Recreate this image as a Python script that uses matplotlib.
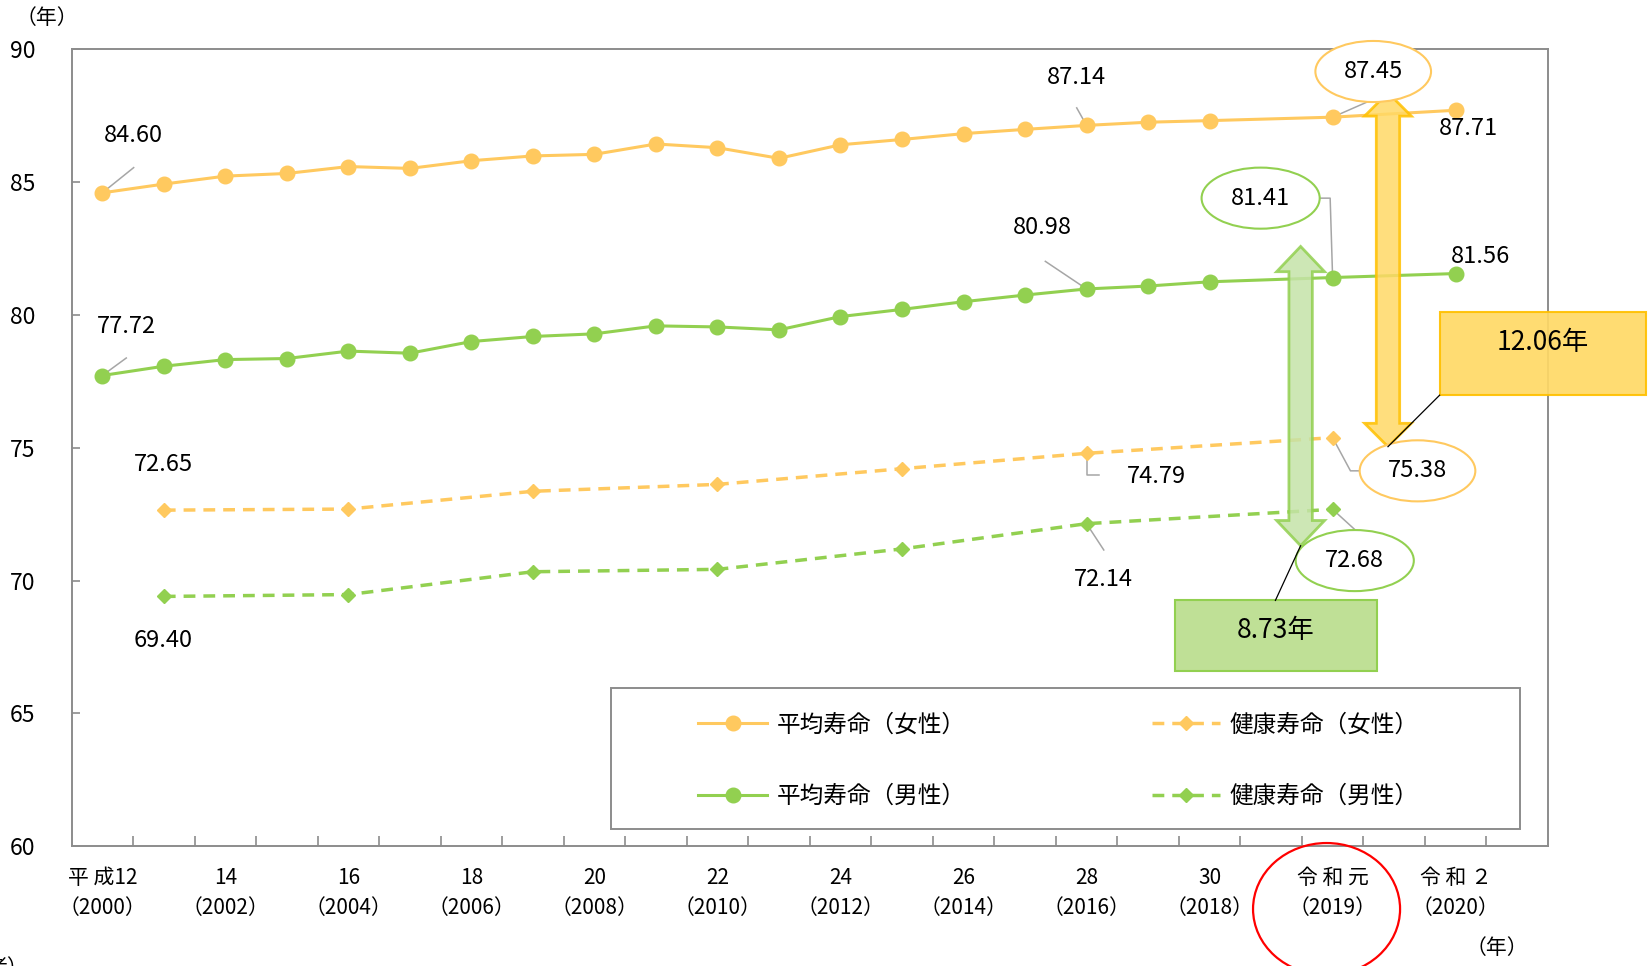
import matplotlib
matplotlib.use("Agg")
import matplotlib.pyplot as plt
from matplotlib.patches import Ellipse, Polygon, Rectangle
from matplotlib.lines import Line2D

plt.rcParams['font.family'] = ['Noto Sans CJK JP', 'DejaVu Sans']

# ---- data -------------------------------------------------------------
years = list(range(2000, 2019)) + [2019, 2020]
# category slot of each year on the x axis (2019 and 2020 are spaced wider)
slots = list(range(0, 19)) + [20, 22]
n_slots = 24

life_f = [84.60, 84.93, 85.23, 85.33, 85.59, 85.52, 85.81, 85.99, 86.05, 86.44,
          86.30, 85.90, 86.41, 86.61, 86.83, 86.99, 87.14, 87.26, 87.32, 87.45, 87.71]
life_m = [77.72, 78.07, 78.32, 78.36, 78.64, 78.56, 79.00, 79.19, 79.29, 79.59,
          79.55, 79.44, 79.94, 80.21, 80.50, 80.75, 80.98, 81.09, 81.25, 81.41, 81.56]

health_years = [2001, 2004, 2007, 2010, 2013, 2016, 2019]
health_f = [72.65, 72.69, 73.36, 73.62, 74.21, 74.79, 75.38]
health_m = [69.40, 69.47, 70.33, 70.42, 71.19, 72.14, 72.68]

gap_f = 12.06
gap_m = 8.73

tick_slots = [0, 2, 4, 6, 8, 10, 12, 14, 16, 18, 20, 22]
tick_labels = ["平 成12\n（2000）", "14\n（2002）", "16\n（2004）", "18\n（2006）",
               "20\n（2008）", "22\n（2010）", "24\n（2012）", "26\n（2014）",
               "28\n（2016）", "30\n（2018）", "令 和 元\n（2019）", "令 和 ２\n（2020）"]

series_names = ["平均寿命（女性）", "平均寿命（男性）", "健康寿命（女性）", "健康寿命（男性）"]

# ---- styles -----------------------------------------------------------
ORANGE = '#FFC95F'
GREEN = '#92D050'
GREY = '#8C8C8C'
LEADER = '#A6A6A6'

slot_of = dict(zip(years, slots))
x_life = [slot_of[y] for y in years]
x_health = [slot_of[y] for y in health_years]

fig = plt.figure(figsize=(16.52, 9.66), dpi=100)
ax = fig.add_axes([0.0433, 0.1242, 0.8937, 0.8246])

l1, = ax.plot(x_life, life_f, color=ORANGE, lw=2.2, marker='o', ms=10.5, zorder=3)
l2, = ax.plot(x_life, life_m, color=GREEN, lw=2.2, marker='o', ms=10.5, zorder=3)
l3, = ax.plot(x_health, health_f, color=ORANGE, lw=2.5, dashes=(3.4, 2.3),
              marker='D', ms=7.5, zorder=3)
l4, = ax.plot(x_health, health_m, color=GREEN, lw=2.5, dashes=(3.4, 2.3),
              marker='D', ms=7.5, zorder=3)

ax.set_xlim(-0.5, n_slots - 0.5)
ax.set_ylim(60, 90)
ax.set_yticks(range(60, 91, 5))
ax.set_xticks(tick_slots)
ax.set_xticklabels(tick_labels, fontsize=15, linespacing=1.5)
ax.set_xticks([k + 0.5 for k in range(n_slots - 1)], minor=True)
ax.tick_params(axis='x', which='major', length=0, pad=15)
ax.tick_params(axis='x', which='minor', direction='in', length=7, width=1.2, color=GREY)
ax.tick_params(axis='y', direction='in', length=6, width=1.2, color=GREY,
               labelsize=16.5, pad=26)
for sp in ax.spines.values():
    sp.set_color(GREY)
    sp.set_linewidth(1.4)

# ---- value labels -----------------------------------------------------
LBL = 17


def straight_label(x, y, text, tx, ty, ex, ey):
    ax.plot([x, ex], [y, ey], color=LEADER, lw=1.1, zorder=2)
    ax.text(tx, ty, text, fontsize=LBL, ha='center', va='center', zorder=5)


def ellipse_label(text, cx, cy, w, h, color):
    ax.add_patch(Ellipse((cx, cy), w, h, facecolor='white', edgecolor=color,
                         lw=1.5, zorder=6, clip_on=False))
    ax.text(cx, cy, text, fontsize=LBL, ha='center', va='center', zorder=7)


def fmt(v):
    return f"{v:.2f}"


# life expectancy, women
straight_label(0, life_f[0], fmt(life_f[0]), 0.51, 86.75, 0.51, 85.55)
straight_label(16, life_f[16], fmt(life_f[16]), 15.84, 88.95, 15.84, 87.80)
ax.text(22.2, 87.02, fmt(life_f[20]), fontsize=LBL, ha='center', va='center')
ax.plot([20, 20.6], [life_f[19], 88.06], color=LEADER, lw=1.1, zorder=2)
ellipse_label(fmt(life_f[19]), 20.66, 89.17, 1.88, 2.3, ORANGE)

# life expectancy, men
straight_label(0, life_m[0], fmt(life_m[0]), 0.39, 79.58, 0.39, 78.38)
straight_label(16, life_m[16], fmt(life_m[16]), 15.29, 83.3, 15.33, 82.02)
ax.text(22.4, 82.2, fmt(life_m[20]), fontsize=LBL, ha='center', va='center')
ax.plot([20, 19.96, 19.79], [life_m[19], 84.4, 84.4], color=LEADER, lw=1.1, zorder=2)
ellipse_label(fmt(life_m[19]), 18.83, 84.4, 1.92, 2.3, GREEN)

# healthy life expectancy, women
ax.text(0.99, 74.35, fmt(health_f[0]), fontsize=LBL, ha='center', va='center')
ax.plot([16, 16, 16.21], [health_f[5], 73.97, 73.97], color=LEADER, lw=1.1, zorder=2)
ax.text(17.14, 73.93, fmt(health_f[5]), fontsize=LBL, ha='center', va='center')
ax.plot([20, 20.29, 20.46], [health_f[6], 74.13, 74.13], color=LEADER, lw=1.1, zorder=2)
ellipse_label(fmt(health_f[6]), 21.38, 74.13, 1.88, 2.3, ORANGE)

# healthy life expectancy, men
ax.text(0.99, 67.74, fmt(health_m[0]), fontsize=LBL, ha='center', va='center')
straight_label(16, health_m[5], fmt(health_m[5]), 16.28, 70.04, 16.28, 71.15)
ax.plot([20, 20.36], [health_m[6], 71.92], color=LEADER, lw=1.1, zorder=2)
ellipse_label(fmt(health_m[6]), 20.36, 70.75, 1.92, 2.3, GREEN)


# ---- double-headed block arrows for the gaps ---------------------------
def double_arrow(xc, top, bottom, shaft_hw, head_hw, head_len, face, edge):
    pts = [
        (xc, top),
        (xc + head_hw, top - head_len),
        (xc + shaft_hw, top - head_len),
        (xc + shaft_hw, bottom + head_len),
        (xc + head_hw, bottom + head_len),
        (xc, bottom),
        (xc - head_hw, bottom + head_len),
        (xc - shaft_hw, bottom + head_len),
        (xc - shaft_hw, top - head_len),
        (xc - head_hw, top - head_len),
    ]
    ax.add_patch(Polygon(pts, closed=True, facecolor=face, edgecolor=edge,
                         lw=2.0, alpha=0.85, zorder=4, clip_on=False))


double_arrow(20.9, 88.37, 75.04, 0.19, 0.38, 0.88, '#FFD966', '#FFC000')
double_arrow(19.48, 82.58, 71.31, 0.19, 0.39, 0.95, '#C5E3A8', GREEN)

# gap callout boxes
ax.add_patch(Rectangle((21.74, 76.98), 3.36, 3.14, facecolor='#FFD966',
                       edgecolor='#FFC000', lw=1.5, alpha=0.92, zorder=8, clip_on=False))
ax.text(23.42, 78.97, f"{gap_f:.2f}年", fontsize=19, ha='center', va='center',
        zorder=9, clip_on=False)
ax.plot([21.74, 20.9], [76.98, 75.04], color='black', lw=0.9, zorder=9, clip_on=False)

ax.add_patch(Rectangle((17.43, 66.59), 3.29, 2.66, facecolor='#BFE096',
                       edgecolor=GREEN, lw=1.5, zorder=8, clip_on=False))
ax.text(19.07, 68.13, f"{gap_m:.2f}年", fontsize=19, ha='center', va='center', zorder=9)
ax.plot([19.07, 19.48], [69.25, 71.31], color='black', lw=0.9, zorder=9)

# ---- legend -----------------------------------------------------------
ax.add_patch(Rectangle((0.3653, 0.0213), 0.6157, 0.1770, transform=ax.transAxes,
                       facecolor='white', edgecolor=GREY, lw=1.4, zorder=5))
handles = [
    Line2D([], [], color=ORANGE, lw=2.2, marker='o', ms=10.5),
    Line2D([], [], color=GREEN, lw=2.2, marker='o', ms=10.5),
    Line2D([], [], color=ORANGE, lw=2.5, dashes=(3.4, 2.3), marker='D', ms=7.5),
    Line2D([], [], color=GREEN, lw=2.5, dashes=(3.4, 2.3), marker='D', ms=7.5),
]
leg = ax.legend(handles, series_names, ncol=2, frameon=False, fontsize=17,
                loc='upper left', bbox_to_anchor=(0.4246, 0.1665),
                borderpad=0, borderaxespad=0, handlelength=2.9, handletextpad=0.4,
                labelspacing=2.05, columnspacing=7.9)
leg.set_zorder(6)

# ---- axis unit labels and the highlighted year ----------------------------
fig.text(0.0285, 0.981, "（年）", fontsize=15, ha='center', va='center')
fig.text(0.906, 0.0186, "（年）", fontsize=15, ha='center', va='center')
fig.text(0.017, 0.0093, "者）", fontsize=15, ha='right', va='top')
fig.patches.append(Ellipse((0.803, 0.059), 0.089, 0.1366, transform=fig.transFigure,
                           facecolor='none', edgecolor='#FF0000', lw=1.6))

fig.savefig("out.png", dpi=100)
